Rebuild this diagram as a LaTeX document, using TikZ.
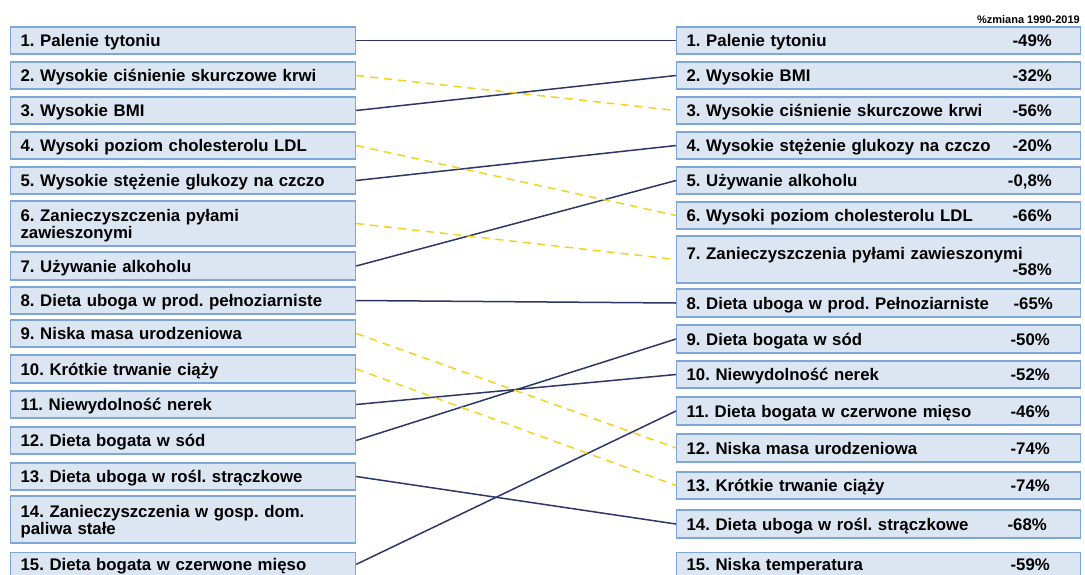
\documentclass[tikz,border=0pt]{standalone}
\usepackage{fontspec}
\setmainfont{Liberation Sans}[BoldFont={Liberation Sans Bold}]
\frenchspacing
\definecolor{boxfill}{HTML}{DCE6F2}
\definecolor{boxline}{HTML}{7FA6D8}
\definecolor{linkblue}{HTML}{2B3765}
\definecolor{linkgold}{HTML}{F2D21E}
\tikzset{
  rfont/.style={font=\bfseries\fontsize{16.8}{16.5}\selectfont},
  box/.style={draw=boxline, line width=1.2pt, fill=boxfill, rectangle, anchor=west,
    inner xsep=10pt, inner ysep=0pt, align=left, rfont, minimum height=27pt,
    execute at begin node=\rule[-3.5pt]{0pt}{19.5pt}},
  lbox/.style={box, text width=325pt},
  rbox/.style={box, text width=384pt},
  pct/.style={anchor=base east, inner sep=0pt, rfont},
  solidlink/.style={draw=linkblue, line width=1.5pt},
  dashlink/.style={draw=linkgold, line width=1.5pt, dash pattern=on 8pt off 6pt}
}
\begin{document}
\begin{tikzpicture}[x=1pt, y=-1pt]
\useasboundingbox (0,0) rectangle (1085,574);
% left column
\node[lbox] (l1) at (10,40.5) {1. Palenie tytoniu};
\node[lbox] (l2) at (10,75.5) {2. Wysokie ciśnienie skurczowe krwi};
\node[lbox] (l3) at (10,110.5) {3. Wysokie BMI};
\node[lbox] (l4) at (10,145.5) {4. Wysoki poziom cholesterolu LDL};
\node[lbox] (l5) at (10,180.5) {5. Wysokie stężenie glukozy na czczo};
\node[lbox, minimum height=45pt] (l6) at (10,223.5) {6. Zanieczyszczenia pyłami\\zawieszonymi};
\node[lbox, minimum height=28pt] (l7) at (10,266) {7. Używanie alkoholu};
\node[lbox] (l8) at (10,300.5) {8. Dieta uboga w prod. pełnoziarniste};
\node[lbox] (l9) at (10,333.5) {9. Niska masa urodzeniowa};
\node[lbox, minimum height=28pt] (l10) at (10,369) {10. Krótkie trwanie ciąży};
\node[lbox] (l11) at (10,404.5) {11. Niewydolność nerek};
\node[lbox] (l12) at (10,440.5) {12. Dieta bogata w sód};
\node[lbox] (l13) at (10,476.5) {13. Dieta uboga w rośl. strączkowe};
\node[lbox, minimum height=47pt] (l14) at (10,519.5) {14. Zanieczyszczenia w gosp. dom.\\paliwa stałe};
\node[lbox, minimum height=23.5pt, anchor=north west] (l15) at (10,552) {15. Dieta bogata w czerwone mięso};
% right column
\node[anchor=south east, inner sep=0pt, font=\bfseries\fontsize{11}{12}\selectfont] (head) at (1080,24) {\%zmiana 1990-2019};
\node[rbox] (r1) at (676,40.5) {1. Palenie tytoniu};
\node[rbox] (r2) at (676,75.5) {2. Wysokie BMI};
\node[rbox] (r3) at (676,110.5) {3. Wysokie ciśnienie skurczowe krwi};
\node[rbox] (r4) at (676,145.5) {4. Wysokie stężenie glukozy na czczo};
\node[rbox] (r5) at (676,180.5) {5. Używanie alkoholu};
\node[rbox] (r6) at (676,215.5) {6. Wysoki poziom cholesterolu LDL};
\node[rbox, minimum height=47pt] (r7) at (676,259.5) {7. Zanieczyszczenia pyłami zawieszonymi\\\mbox{}};
\node[rbox, minimum height=28pt] (r8) at (676,303) {8. Dieta uboga w prod. Pełnoziarniste};
\node[rbox, minimum height=28pt] (r9) at (676,339) {9. Dieta bogata w sód};
\node[rbox] (r10) at (676,374.5) {10. Niewydolność nerek};
\node[rbox, minimum height=28pt] (r11) at (676,411) {11. Dieta bogata w czerwone mięso};
\node[rbox, minimum height=28pt] (r12) at (676,448) {12. Niska masa urodzeniowa};
\node[rbox] (r13) at (676,485.5) {13. Krótkie trwanie ciąży};
\node[rbox, minimum height=28pt] (r14) at (676,524) {14. Dieta uboga w rośl. strączkowe};
\node[rbox, minimum height=23.5pt, anchor=north west] (r15) at (676,552) {15. Niska temperatura};
% percentages
\node[pct] (p1) at (1052,46.7) {-49\%};
\node[pct] (p2) at (1052,81.7) {-32\%};
\node[pct] (p3) at (1052,116.7) {-56\%};
\node[pct] (p4) at (1052,151.7) {-20\%};
\node[pct] (p5) at (1052,186.7) {-0,8\%};
\node[pct] (p6) at (1052,221.7) {-66\%};
\node[pct] (p7) at (1052,275.5) {-58\%};
\node[pct] (p8) at (1053,309.2) {-65\%};
\node[pct] (p9) at (1050,345.2) {-50\%};
\node[pct] (p10) at (1050,380.7) {-52\%};
\node[pct] (p11) at (1050,417.2) {-46\%};
\node[pct] (p12) at (1050,454.2) {-74\%};
\node[pct] (p13) at (1050,491.7) {-74\%};
\node[pct] (p14) at (1047,530.2) {-68\%};
\node[pct] (p15) at (1050,570) {-59\%};
% links
\path[solidlink]
    (l1.east) edge (r1.west)
    (l3.east) edge (r2.west)
    (l5.east) edge (r4.west)
    (l7.east) edge (r5.west)
    (l8.east) edge (r8.west)
    (l11.east) edge (r10.west)
    (l12.east) edge (r9.west)
    (l13.east) edge (r14.west)
    (l15.east) edge (r11.west);
\path[dashlink]
    (l2.east) edge (r3.west)
    (l4.east) edge (r6.west)
    (l6.east) edge (r7.west)
    (l9.east) edge (r12.west)
    (l10.east) edge (r13.west);
\end{tikzpicture}
\end{document}
